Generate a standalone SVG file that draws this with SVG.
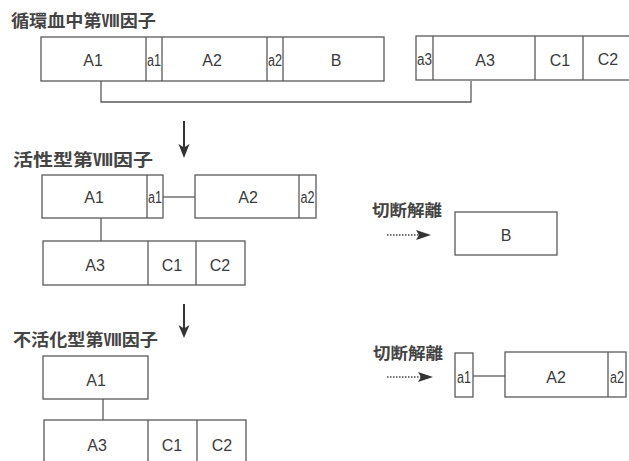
<svg xmlns="http://www.w3.org/2000/svg" width="629" height="461" viewBox="0 0 629 461">
<defs>
<style>
.b{fill:#fff;stroke:#5a5a5a;stroke-width:1.3}
.d{stroke:#5a5a5a;stroke-width:1.3;fill:none}
.l{font-family:"Liberation Sans",Arial,sans-serif;font-size:16px;fill:#3a3a3a;text-anchor:middle}
.s{font-family:"Liberation Sans",Arial,sans-serif;font-size:16px;fill:#3a3a3a;text-anchor:middle}
.t{font-family:"Noto Sans CJK JP","Noto Sans CJK SC",sans-serif;font-size:17px;font-weight:bold;fill:#444}
.u{font-family:"Noto Sans CJK JP","Noto Sans CJK SC",sans-serif;font-size:16px;font-weight:bold;fill:#444}
.c{stroke:#5a5a5a;stroke-width:1.3;fill:none}
.k{stroke:#333;stroke-width:2;fill:none}
.h{fill:#333}
.dt{stroke:#444;stroke-width:1.5;stroke-dasharray:1.5 1.5;fill:none}
</style>
</defs>
<rect width="629" height="461" fill="#fff"/>

<g id="titles">
<text class="t" x="11" y="27" textLength="145" lengthAdjust="spacingAndGlyphs">循環血中第Ⅷ因子</text>
<text class="t" x="13" y="166" textLength="140" lengthAdjust="spacingAndGlyphs">活性型第Ⅷ因子</text>
<text class="t" x="13" y="346" textLength="145" lengthAdjust="spacingAndGlyphs">不活化型第Ⅷ因子</text>
<text class="u" x="372" y="216" textLength="70" lengthAdjust="spacingAndGlyphs">切断解離</text>
<text class="u" x="373" y="359" textLength="70" lengthAdjust="spacingAndGlyphs">切断解離</text>
</g>

<g id="connectors">
<polyline class="c" points="101,81 101,102 471,102 471,81"/>
<line class="c" x1="163" y1="197" x2="195" y2="197"/>
<line class="c" x1="101" y1="218" x2="101" y2="241"/>
<line class="c" x1="103" y1="399" x2="103" y2="420"/>
<line class="c" x1="473" y1="376" x2="505" y2="376"/>
<line class="k" x1="184" y1="121" x2="184" y2="149"/>
<path class="h" d="M178.5,144 L184,147.5 L189.5,144 L184,158 Z"/>
<line class="k" x1="184" y1="304" x2="184" y2="330"/>
<path class="h" d="M178.5,325 L184,328.5 L189.5,325 L184,338 Z"/>
<line class="dt" x1="387" y1="235" x2="420" y2="235"/>
<path class="h" d="M416,230 L431,235 L416,240 L419,235 Z"/>
<line class="dt" x1="387" y1="377" x2="422" y2="377"/>
<path class="h" d="M418,372 L433,377 L418,382 L421,377 Z"/>
</g>

<g id="circulating-heavy">
<rect class="b" x="41" y="37" width="343" height="44"/>
<line class="d" x1="146" y1="37" x2="146" y2="81"/>
<line class="d" x1="162" y1="37" x2="162" y2="81"/>
<line class="d" x1="267" y1="37" x2="267" y2="81"/>
<line class="d" x1="283" y1="37" x2="283" y2="81"/>
<text class="l" x="93" y="66">A1</text>
<text class="s" x="154" y="66" textLength="14" lengthAdjust="spacingAndGlyphs">a1</text>
<text class="l" x="212" y="66">A2</text>
<text class="s" x="275" y="66" textLength="14" lengthAdjust="spacingAndGlyphs">a2</text>
<text class="l" x="336" y="66">B</text>
</g>

<g id="circulating-light">
<rect class="b" x="416" y="36" width="220" height="44"/>
<line class="d" x1="433" y1="36" x2="433" y2="80"/>
<line class="d" x1="535" y1="36" x2="535" y2="80"/>
<line class="d" x1="583" y1="36" x2="583" y2="80"/>
<text class="s" x="424.5" y="65" textLength="15" lengthAdjust="spacingAndGlyphs">a3</text>
<text class="l" x="485" y="66">A3</text>
<text class="l" x="560" y="66">C1</text>
<text class="l" x="608" y="65">C2</text>
</g>

<g id="active-a1">
<rect class="b" x="42" y="175" width="121" height="43"/>
<line class="d" x1="147" y1="175" x2="147" y2="218"/>
<text class="l" x="94" y="203">A1</text>
<text class="s" x="155" y="203" textLength="14" lengthAdjust="spacingAndGlyphs">a1</text>
</g>

<g id="active-a2">
<rect class="b" x="195" y="175" width="121" height="43"/>
<line class="d" x1="299" y1="175" x2="299" y2="218"/>
<text class="l" x="248" y="203">A2</text>
<text class="s" x="307.5" y="203" textLength="14" lengthAdjust="spacingAndGlyphs">a2</text>
</g>

<g id="active-a3">
<rect class="b" x="43" y="241" width="202" height="44"/>
<line class="d" x1="148" y1="241" x2="148" y2="285"/>
<line class="d" x1="196" y1="241" x2="196" y2="285"/>
<text class="l" x="95" y="271">A3</text>
<text class="l" x="172" y="271">C1</text>
<text class="l" x="220" y="271">C2</text>
</g>

<g id="released-b">
<rect class="b" x="455" y="212" width="102" height="43"/>
<text class="l" x="506" y="241">B</text>
</g>

<g id="inactive-a1">
<rect class="b" x="43" y="356" width="105" height="43"/>
<text class="l" x="96" y="386">A1</text>
</g>

<g id="inactive-a3">
<rect class="b" x="44" y="420" width="202" height="50"/>
<line class="d" x1="148" y1="420" x2="148" y2="470"/>
<line class="d" x1="197" y1="420" x2="197" y2="470"/>
<text class="l" x="97" y="451">A3</text>
<text class="l" x="172" y="451">C1</text>
<text class="l" x="222" y="451">C2</text>
</g>

<g id="released-a1">
<rect class="b" x="455" y="353" width="18" height="44"/>
<text class="s" x="464" y="383" textLength="14" lengthAdjust="spacingAndGlyphs">a1</text>
</g>

<g id="released-a2">
<rect class="b" x="505" y="352" width="121" height="45"/>
<line class="d" x1="608" y1="352" x2="608" y2="397"/>
<text class="l" x="556" y="383">A2</text>
<text class="s" x="617" y="383" textLength="14" lengthAdjust="spacingAndGlyphs">a2</text>
</g>
</svg>
